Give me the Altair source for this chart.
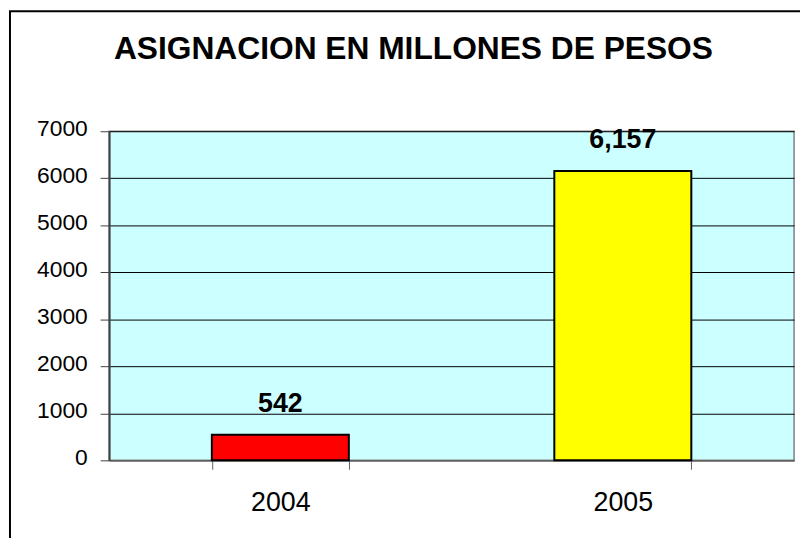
import altair as alt
import pandas as pd

years = ["2004", "2005"]
values = [542, 6157]
colors = ["#FF0000", "#FFFF00"]
title_text = "ASIGNACION EN MILLONES DE PESOS"
y_ticks = [0, 1000, 2000, 3000, 4000, 5000, 6000, 7000]

df = pd.DataFrame({"year": years, "value": values, "color": colors})

W, H = 691, 332

x_enc = alt.X(
    "year:N",
    title=None,
    scale=alt.Scale(paddingInner=0.6, paddingOuter=0.3),
    axis=alt.Axis(
        labelAngle=0,
        labelFontSize=27,
        labelFont="Liberation Sans",
        labelColor="black",
        labelPadding=21,
        tickBand="extent",
        tickSize=9,
        tickColor="#606060",
        domainColor="#606060",
        domainWidth=1.5,
    ),
)
y_enc = alt.Y(
    "value:Q",
    title=None,
    scale=alt.Scale(domain=[0, 7000], nice=False),
    axis=alt.Axis(
        values=y_ticks,
        format="d",
        labelFontSize=23,
        labelFont="Liberation Sans",
        labelColor="black",
        labelPadding=13,
        labelOffset=-3,
        tickSize=9,
        tickColor="#404040",
        domainColor="#404040",
        domainWidth=2,
        grid=True,
        gridColor="black",
        gridWidth=1,
    ),
)

base = alt.Chart(df)

bars = base.mark_bar(stroke="black", strokeWidth=2).encode(
    x=x_enc,
    y=y_enc,
    color=alt.Color("color:N", scale=None, legend=None),
)

labels = base.mark_text(
    fontSize=27, fontWeight="bold", font="Liberation Sans", baseline="alphabetic",
    dy=-23, color="black",
).encode(
    x=alt.X("year:N"),
    y=alt.Y("value:Q"),
    text=alt.Text("value:Q", format=",.0f"),
)

title_df = pd.DataFrame({"t": [title_text]})
title = alt.Chart(title_df).mark_text(
    fontSize=32, fontWeight="bold", font="Liberation Sans", baseline="alphabetic",
    align="center", color="black",
).encode(text="t:N", x=alt.value(307), y=alt.value(-73))

frame_df = pd.DataFrame({"k": [0]})
frame_left = alt.Chart(frame_df).mark_rule(color="black", strokeWidth=2).encode(
    x=alt.value(-100), y=alt.value(-121), y2=alt.value(420)
)
frame_top = alt.Chart(frame_df).mark_rule(color="black", strokeWidth=2).encode(
    x=alt.value(-101), x2=alt.value(710), y=alt.value(-121)
)

chart = (
    alt.layer(bars, labels, title, frame_left, frame_top)
    .properties(
        width=W,
        height=H,
        autosize=alt.AutoSizeParams(type="none"),
        padding={"left": 102, "top": 122, "right": 6, "bottom": 76},
        background="white",
    )
    .configure_view(fill="#CCFFFF", stroke="#808080", strokeWidth=1.5)
)

chart.save("out.html", embed_options={"renderer": "svg", "actions": False})
